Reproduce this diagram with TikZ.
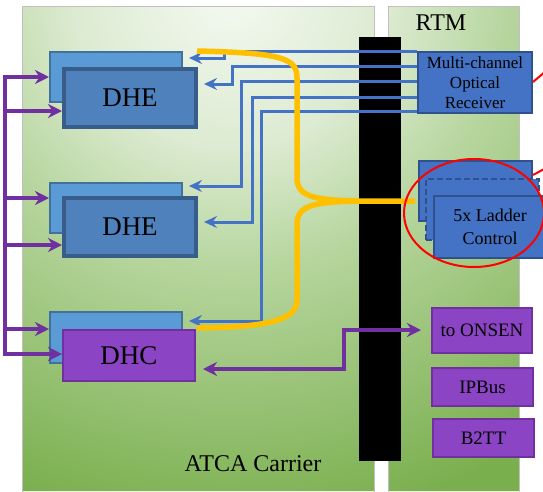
\documentclass[tikz,border=0pt]{standalone}
\usepackage{fontspec}
\setmainfont{Liberation Serif}
\usetikzlibrary{arrows.meta,shapes.geometric}
\definecolor{pA}{HTML}{F4F9F1}
\definecolor{pB}{HTML}{DDEBD2}
\definecolor{pC}{HTML}{B7D69F}
\definecolor{pD}{HTML}{7AAF4E}
\definecolor{panelline}{HTML}{C0C0C0}
\definecolor{backfill}{HTML}{5B9BD5}
\definecolor{backline}{HTML}{41719C}
\definecolor{frontfill}{HTML}{4F81BD}
\definecolor{frontline}{HTML}{385D8A}
\definecolor{bluefill}{HTML}{4472C4}
\definecolor{blueline}{HTML}{2F528F}
\definecolor{lineblue}{HTML}{4472C4}
\definecolor{purfill}{HTML}{8B44C4}
\definecolor{purline}{HTML}{7030A0}
\definecolor{gold}{HTML}{FFC000}
\pgfdeclareradialshading{panelshade}{\pgfpoint{0bp}{0bp}}{color(0bp)=(pA); color(6.5bp)=(pB); color(11.5bp)=(pC); color(22.5bp)=(pD); color(50bp)=(pD)}
\tikzset{PuTip/.tip={Stealth[length=14pt,width=14pt,inset=4.5pt]},
         BlTip/.tip={Stealth[length=13pt,width=12pt,inset=4.5pt]}}
\begin{document}
\begin{tikzpicture}[x=1pt,y=-1pt,
  box/.style={rectangle, inner sep=0pt, anchor=north west, text=black},
  dheback/.style={box, fill=backfill, draw=backline, line width=2pt},
  dhefront/.style={box, fill=frontfill, draw=frontline, line width=4pt, font=\fontsize{27}{30}\selectfont},
  bluebox/.style={box, fill=bluefill, draw=blueline, line width=2pt},
  purbox/.style={box, fill=purfill, draw=purline, line width=2pt, font=\fontsize{19}{22}\selectfont},
  bl/.style={draw=lineblue, line width=3pt, -{BlTip}, shorten >=6pt},
  pu/.style={draw=purline, line width=3.8pt},
  yl/.style={draw=gold, line width=5.5pt},
  redl/.style={draw=red, line width=2pt}
]
\useasboundingbox (0,0) rectangle (543,491);
\fill[white] (0,0) rectangle (543,491);
% panels
\begin{scope}
\clip (22,6) rectangle (374,491) (388,6) rectangle (519,491);
\shade[shading=panelshade] (230,-10) circle (600pt);
\end{scope}
\node[box, draw=panelline, line width=1pt, minimum width=352pt, minimum height=490pt] (atca) at (22,6) {};
\node[box, draw=panelline, line width=1pt, minimum width=131pt, minimum height=490pt] (rtm) at (388,6) {};
\node[font=\fontsize{24}{26}\selectfont] (rtmlabel) at (441,23) {RTM};
\node[font=\fontsize{24}{26}\selectfont] (atcalabel) at (253,464) {ATCA Carrier};
% black bar
\node[box, fill=black, minimum width=42pt, minimum height=424pt] (bar) at (359,37) {};
% DHE / DHC boxes
\node[dheback, minimum width=132pt, minimum height=50pt] (dheAback) at (49,51) {};
\node[dhefront, minimum width=132pt, minimum height=58pt] (dheAfront) at (62,67) {DHE};
\node[dheback, minimum width=132pt, minimum height=50pt] (dheBback) at (49,182) {};
\node[dhefront, minimum width=132pt, minimum height=58pt] (dheBfront) at (62,196) {DHE};
\node[dheback, minimum width=132pt, minimum height=51pt] (dhcback) at (49,311) {};
\node[purbox, minimum width=132pt, minimum height=51pt, font=\fontsize{27}{30}\selectfont] (dhcfront) at (62,329) {DHC};
% RTM boxes
\node[bluebox, minimum width=114pt, minimum height=61pt, align=center, font=\fontsize{17}{20}\selectfont] (rx) at (417,51) {Multi-channel\\Optical\\Receiver};
\node[bluebox, minimum width=113pt, minimum height=60pt] (ladA) at (418,160) {};
\node[bluebox, dashed, dash pattern=on 6pt off 3pt, minimum width=113pt, minimum height=61pt] (ladB) at (425,178) {};
\node[bluebox, minimum width=112pt, minimum height=62pt, align=center, font=\fontsize{18}{23}\selectfont] (ladC) at (433,195) {5x Ladder\\Control};
\node[purbox, minimum width=100pt, minimum height=45pt] (onsen) at (431,307) {to ONSEN};
\node[purbox, minimum width=101pt, minimum height=38pt] (ipbus) at (431,367) {IPBus};
\node[purbox, minimum width=101pt, minimum height=38pt] (btt) at (432,418) {B2TT};
% blue lines
\draw[bl] (rx.west |- 0,51) -| (224,58) -- (dheAback.east |- 0,58);
\draw[bl] (rx.west |- 0,66) -| (232,84) -- (dheAfront.east |- 0,84);
\draw[bl] (rx.west |- 0,81) -| (241,186) -- (dheBback.east |- 0,186);
\draw[bl] (rx.west |- 0,97) -| (252,222) -- (dheBfront.east |- 0,222);
\draw[bl] (rx.west |- 0,111) -| (261,321) -- (dhcback.east |- 0,321);
% yellow lines
\coordinate (yA) at (197,51);
\coordinate (yB) at (197,328);
\coordinate (yJ) at (358,201);
\coordinate (yC) at (415,201);
\draw[yl] (yA) .. controls (282,53) and (297,58) .. (297,78) -- (297,178)
  .. controls (297,198) and (318,200) .. (yJ) -- (yC);
\draw[yl] (yJ) .. controls (318,202) and (297,204) .. (297,224) -- (297,300)
  .. controls (297,322) and (262,327) .. (yB);
% purple bus
\draw[pu, {PuTip}-{PuTip}] (dheAback.west |- 0,77) -| (5,354) -- (dhcfront.west |- 0,354);
\draw[pu, -{PuTip}] (5,111) -- (dheAfront.west |- 0,111);
\draw[pu, -{PuTip}] (5,198) -- (dheBback.west |- 0,198);
\draw[pu, -{PuTip}] (5,245) -- (dheBfront.west |- 0,245);
\draw[pu, -{PuTip}] (5,329) -- (dhcback.west |- 0,329);
% DHC to ONSEN
\draw[pu, {PuTip}-{PuTip}, shorten <=7pt, shorten >=10pt] (dhcfront.east |- 0,369) -| (344,330) -- (onsen.west |- 0,330);
% red highlight
\node[draw=red, line width=2pt, ellipse, minimum width=140pt, minimum height=108pt, inner sep=0pt] (hl) at (474,213) {};
\coordinate (r1) at (546,71);
\coordinate (r2) at (546,168);
\draw[redl] (rx.east |- 0,82) -- (r1);
\draw[redl] (ladA.east |- 0,175) -- (r2);
\end{tikzpicture}
\end{document}
